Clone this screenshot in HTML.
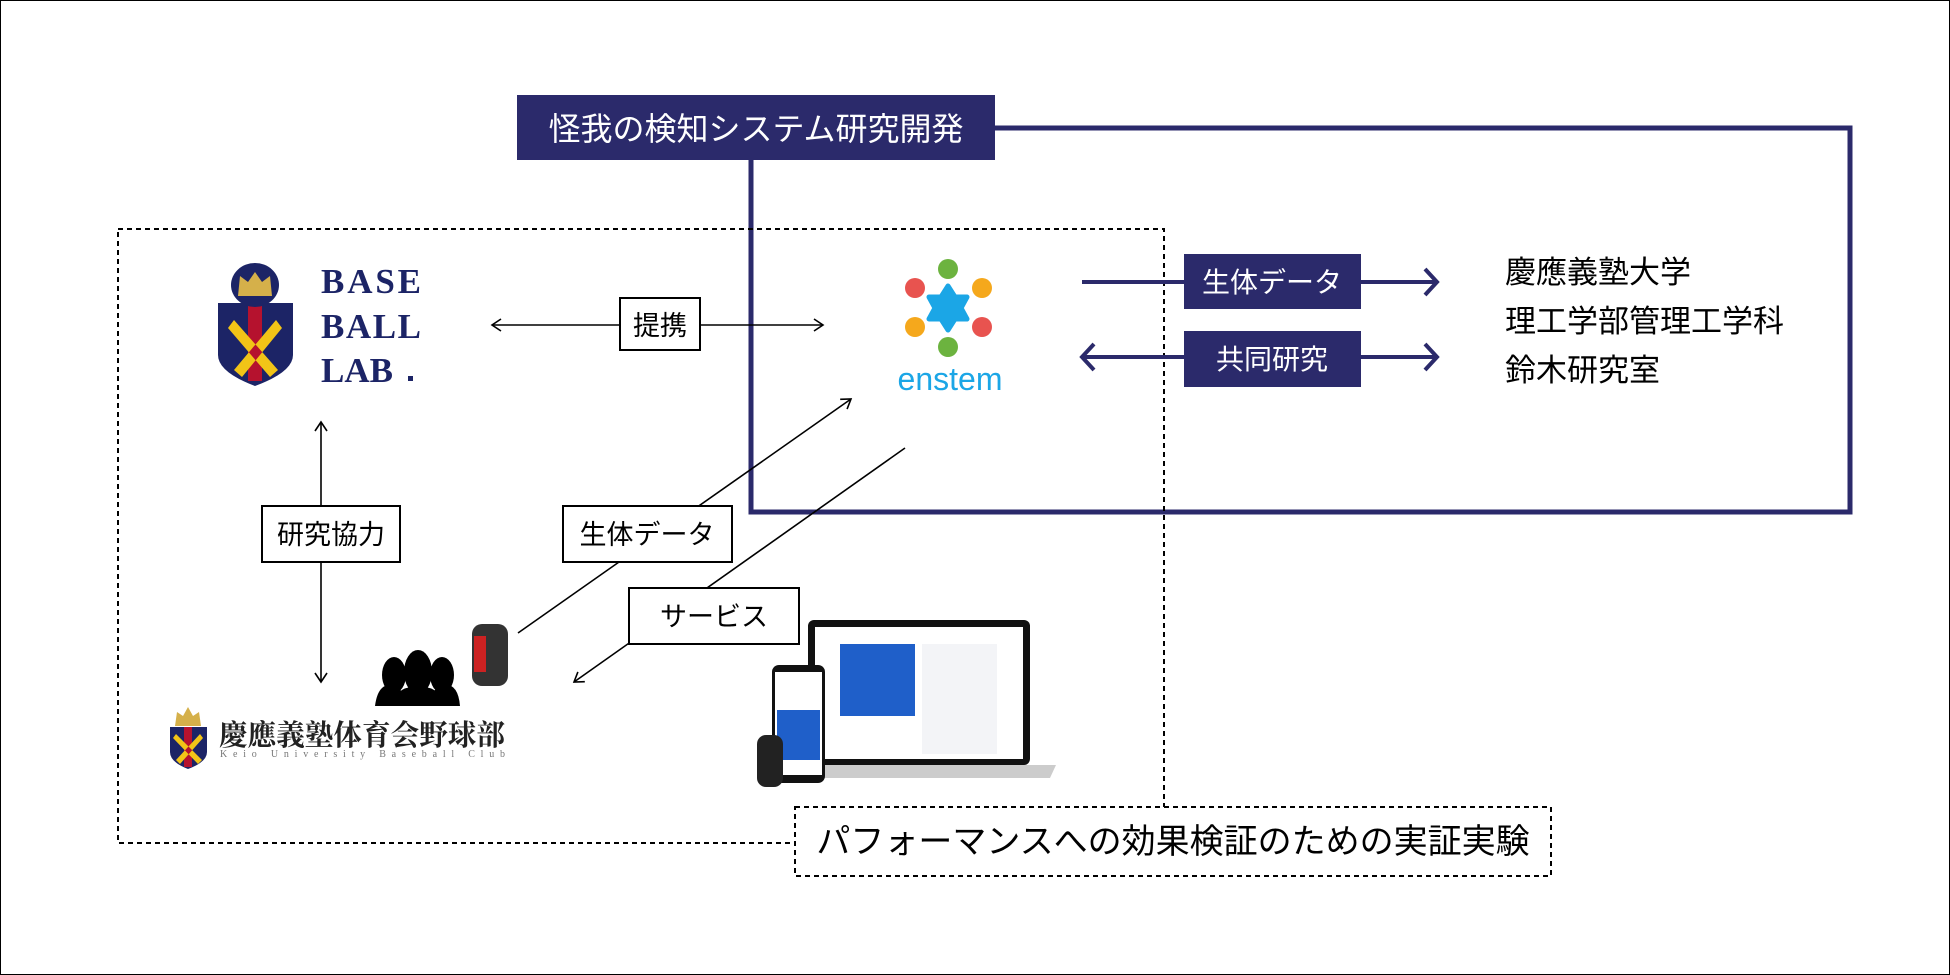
<!DOCTYPE html>
<html><head><meta charset="utf-8"><style>
html,body{margin:0;padding:0;background:#fff}
svg{display:block}
</style></head><body>
<svg width="1950" height="975" viewBox="0 0 1950 975" xmlns="http://www.w3.org/2000/svg" font-family="Liberation Sans, Noto Sans CJK JP, sans-serif">
<defs>
<marker id="ah" markerWidth="14" markerHeight="14" refX="11" refY="7" orient="auto-start-reverse" markerUnits="userSpaceOnUse">
<path d="M2,1 L11,7 L2,13" fill="none" stroke="#000" stroke-width="1.6"/></marker>
<marker id="nah" markerWidth="20" markerHeight="30" refX="16" refY="15" orient="auto-start-reverse" markerUnits="userSpaceOnUse">
<path d="M4,2 L16,15 L4,28" fill="none" stroke="#2b2a6b" stroke-width="4"/></marker>
</defs>
<rect x="0.5" y="0.5" width="1949" height="974" fill="#fff" stroke="#000" stroke-width="1"/>

<path d="M995,128 H1850 V512 H751 V160" fill="none" stroke="#2b2a6b" stroke-width="5"/>
<rect x="517" y="95" width="478" height="65" fill="#2b2a6b"/>
<text x="756" y="140" font-size="32" fill="#fff" text-anchor="middle">怪我の検知システム研究開発</text>

<rect x="118" y="229" width="1046" height="614" fill="none" stroke="#000" stroke-width="2" stroke-dasharray="5,4"/>
<rect x="795" y="807" width="756" height="69" fill="#fff" stroke="#000" stroke-width="2" stroke-dasharray="5,4"/>
<text x="1173" y="853" font-size="34" fill="#000" text-anchor="middle">パフォーマンスへの効果検証のための実証実験</text>

<path d="M218,303 H293 V355 Q293,372 255,386 Q218,372 218,355 Z" fill="#1c2466"/>
<rect x="248" y="303" width="14" height="78" fill="#b5122e"/>
<path d="M234,320 L278,370 L270,377 L228,328 Z M276,320 L234,370 L242,377 L282,328 Z" fill="#f2c417"/>
<ellipse cx="255" cy="285" rx="24" ry="22" fill="#1c2466"/>
<path d="M238,296 L240,276 L248,282 L255,272 L262,282 L270,276 L272,296 Z" fill="#d5b04a"/>
<g style="font-family:'Liberation Serif',serif;font-weight:bold" fill="#1c2466" font-size="35">
<text x="321" y="293" textLength="100">BASE</text><text x="321" y="338" textLength="100">BALL</text><text x="321" y="382">LAB</text></g>
<rect x="408" y="376" width="5" height="5" fill="#1c2466"/>

<line x1="492" y1="325" x2="823" y2="325" stroke="#000" stroke-width="1.6" marker-start="url(#ah)" marker-end="url(#ah)"/>
<rect x="620" y="298" width="80" height="52" fill="#fff" stroke="#000" stroke-width="2"/>
<text x="660" y="335" font-size="27" text-anchor="middle">提携</text>

<circle cx="948" cy="269" r="10" fill="#6cb33f"/>
<circle cx="948" cy="347" r="10" fill="#6cb33f"/>
<circle cx="915" cy="288" r="10" fill="#e8534f"/>
<circle cx="982" cy="327" r="10" fill="#e8534f"/>
<circle cx="982" cy="288" r="10" fill="#f5a81c"/>
<circle cx="915" cy="327" r="10" fill="#f5a81c"/>
<path d="M948,286 L955,297 L967,297 L961,308 L967,319 L955,319 L948,330 L941,319 L929,319 L935,308 L929,297 L941,297 Z" fill="#1ba6e6" stroke="#1ba6e6" stroke-width="5" stroke-linejoin="round"/>
<text x="950" y="390" font-size="32" fill="#1ba6e6" text-anchor="middle">enstem</text>

<line x1="1082" y1="282" x2="1437" y2="282" stroke="#2b2a6b" stroke-width="4" marker-end="url(#nah)"/>
<line x1="1082" y1="357" x2="1437" y2="357" stroke="#2b2a6b" stroke-width="4" marker-start="url(#nah)" marker-end="url(#nah)"/>
<rect x="1184" y="254" width="177" height="55" fill="#2b2a6b"/>
<text x="1272" y="292" font-size="28" fill="#fff" text-anchor="middle">生体データ</text>
<rect x="1184" y="331" width="177" height="56" fill="#2b2a6b"/>
<text x="1272" y="369" font-size="28" fill="#fff" text-anchor="middle">共同研究</text>
<g font-size="31" fill="#000">
<text x="1505" y="283">慶應義塾大学</text>
<text x="1505" y="332">理工学部管理工学科</text>
<text x="1505" y="381">鈴木研究室</text></g>

<line x1="321" y1="422" x2="321" y2="682" stroke="#000" stroke-width="1.6" marker-start="url(#ah)" marker-end="url(#ah)"/>
<rect x="262" y="506" width="138" height="56" fill="#fff" stroke="#000" stroke-width="2"/>
<text x="331" y="544" font-size="27" text-anchor="middle">研究協力</text>

<line x1="518" y1="633" x2="851" y2="399" stroke="#000" stroke-width="1.6" marker-end="url(#ah)"/>
<line x1="905" y1="448" x2="574" y2="682" stroke="#000" stroke-width="1.6" marker-end="url(#ah)"/>
<rect x="563" y="506" width="169" height="56" fill="#fff" stroke="#000" stroke-width="2"/>
<text x="647" y="544" font-size="27" text-anchor="middle">生体データ</text>
<rect x="629" y="588" width="170" height="56" fill="#fff" stroke="#000" stroke-width="2"/>
<text x="714" y="626" font-size="27" text-anchor="middle">サービス</text>

<g fill="#000">
<ellipse cx="394" cy="675" rx="12" ry="18"/><path d="M375,706 Q378,682 394,685 Q405,690 405,706 Z"/>
<ellipse cx="442" cy="675" rx="12" ry="18"/><path d="M430,706 Q430,690 442,685 Q458,682 460,706 Z"/>
<ellipse cx="418" cy="672" rx="14" ry="22"/><path d="M395,706 Q396,684 418,688 Q440,684 441,706 Z"/>
</g>
<rect x="472" y="624" width="36" height="62" rx="10" fill="#333"/>
<rect x="474" y="636" width="12" height="36" fill="#c22"/>

<path d="M170,727 H207 V752 Q207,762 188,769 Q170,762 170,752 Z" fill="#1c2466"/>
<rect x="184" y="727" width="8" height="40" fill="#b5122e"/>
<path d="M176,734 L202,760 L198,764 L173,738 Z M200,734 L176,760 L180,764 L203,738 Z" fill="#f2c417"/>
<path d="M175,726 L177,712 L183,716 L188,707 L193,716 L199,712 L201,726 Z" fill="#d5b04a"/>
<text x="219" y="745" style="font-family:'Noto Serif CJK SC','Liberation Serif',serif;font-weight:bold" font-size="29" fill="#222" textLength="286" lengthAdjust="spacingAndGlyphs">慶應義塾体育会野球部</text>
<text x="220" y="757" style="font-family:'Liberation Serif',serif" font-size="10" fill="#777" textLength="285">Keio University Baseball Club</text>

<rect x="808" y="620" width="222" height="145" rx="6" fill="#111"/>
<rect x="815" y="627" width="208" height="132" fill="#fff"/>
<rect x="840" y="644" width="75" height="72" fill="#1f5fc9"/>
<rect x="922" y="644" width="75" height="110" fill="#f3f4f7"/>
<path d="M795,765 H1056 L1050,778 H801 Z" fill="#ccc"/>
<rect x="772" y="665" width="53" height="118" rx="7" fill="#111"/>
<rect x="775" y="672" width="47" height="103" fill="#fff"/>
<rect x="777" y="710" width="43" height="50" fill="#1f5fc9"/>
<rect x="757" y="735" width="26" height="52" rx="9" fill="#222"/>
</svg>
</body></html>
